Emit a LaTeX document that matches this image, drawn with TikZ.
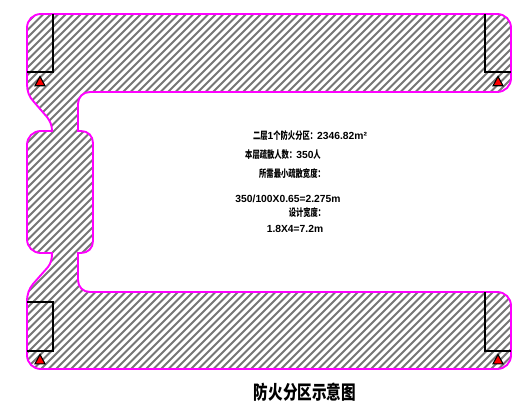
\documentclass[tikz,border=0pt]{standalone}
\usepackage{fontspec}
\usepackage{graphicx}
\setmainfont{Liberation Sans}
\newfontfamily\cjk{Noto Sans CJK SC}[BoldFont={Noto Sans CJK SC Black}]
\newcommand{\hz}[1]{\scalebox{1}[1.4]{\cjk\bfseries\fontsize{7.3}{8}\selectfont #1}}
\definecolor{mag}{RGB}{255,0,255}
\definecolor{hatchgray}{RGB}{118,118,118}
\tikzset{
  wall/.style={draw=mag,line width=1.9pt},
  partition/.style={draw=black,line width=1.1pt},
  exitmark/.style={draw=black,fill=red,line width=1.1pt,line join=miter},
  hatchline/.style={draw=hatchgray,line width=1.9pt},
  note/.style={font=\bfseries\fontsize{10.3}{10}\selectfont,inner sep=0pt,anchor=center},
  titletext/.style={font=\cjk\bfseries\fontsize{14.6}{15}\selectfont,inner sep=0pt,anchor=center}
}
\def\zoneoutline{(41,14) -- (497,14) .. controls (505,14) and (511,20) .. (511,28) -- (511,78) .. controls (511,86) and (505,92) .. (497,92)
 -- (90,92) .. controls (83,92) and (78,97) .. (78,104) -- (78,131) -- (81,131) .. controls (88,131) and (93,136) .. (93,143)
 -- (93,241) .. controls (93,248) and (88,253) .. (81,253) -- (78,253) -- (78,280) .. controls (78,287) and (83,292) .. (90,292)
 -- (497,292) .. controls (505,292) and (511,298) .. (511,306) -- (511,355) .. controls (511,363) and (505,369) .. (497,369)
 -- (41,369) .. controls (33,369) and (27,363) .. (27,355) -- (27,302) .. controls (27,294) and (29,289) .. (33,284)
 -- (48,267) .. controls (51,263) and (52,259) .. (52,253) -- (41,253) .. controls (33,253) and (27,247) .. (27,239)
 -- (27,145) .. controls (27,137) and (33,131) .. (41,131) -- (52,131) .. controls (52,125) and (50,121) .. (47,117)
 -- (34,102) .. controls (29,97) and (27,91) .. (27,84) -- (27,28) .. controls (27,20) and (33,14) .. (41,14) -- cycle}
\begin{document}
\begin{tikzpicture}[x=1pt,y=-1pt]
\useasboundingbox (0,0) rectangle (518,414);
\begin{scope}
  \clip \zoneoutline;
  \foreach \k in {0,...,130} {
    \draw[hatchline] ({-380+7.5*\k},400) -- ({20+7.5*\k},0);
  }
\end{scope}
\draw[wall] \zoneoutline;
\draw[partition] (53,14) -- (53,72) -- (27,72);
\draw[partition] (485,14) -- (485,72) -- (511,72);
\draw[partition] (27,302) -- (53,302) -- (53,351) -- (27,351);
\draw[partition] (485,292) -- (485,351) -- (511,351);
\draw[exitmark] (40,76.5) -- (35,85.8) -- (45,85.8) -- cycle;
\draw[exitmark] (498,76.5) -- (493,85.8) -- (503,85.8) -- cycle;
\draw[exitmark] (40,354.5) -- (35,363.8) -- (45,363.8) -- cycle;
\draw[exitmark] (498,354.5) -- (493,363.8) -- (503,363.8) -- cycle;
\node[note] (l1) at (310,136) {\hz{二层}1\hz{个防火分区：}2346.82m²};
\node[note] (l2) at (283,155) {\hz{本层疏散人数：}350\hz{人}};
\node[note] (l3) at (292,174) {\hz{所需最小疏散宽度：}};
\node[note] (l4) at (288,199) {350/100X0.65=2.275m};
\node[note] (l5) at (307,213) {\hz{设计宽度：}};
\node[note] (l6) at (295,229) {1.8X4=7.2m};
\node[titletext] (title) at (305,392) {\scalebox{1}[1.3]{防火分区示意图}};
\end{tikzpicture}
\end{document}
